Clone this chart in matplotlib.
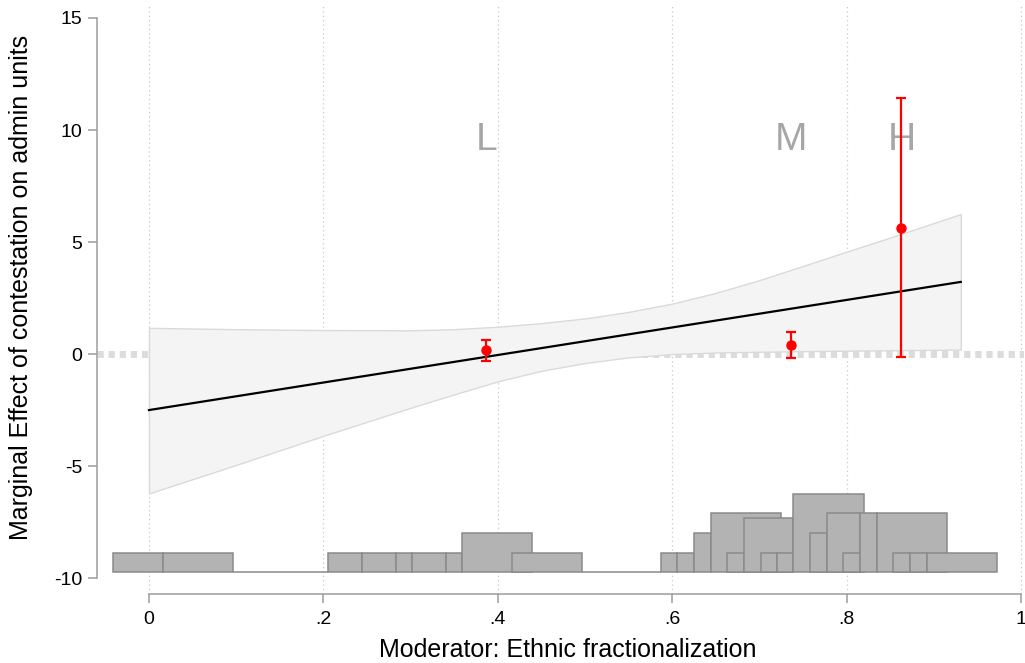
import matplotlib
matplotlib.use("Agg")
import matplotlib.pyplot as plt

plt.rcParams["font.family"] = ["Liberation Sans", "DejaVu Sans"]

# fitted marginal effect (linear) and its confidence band
fit_x = [0.0, 0.931]
fit_y = [-2.5, 3.22]

ci_x = [0.0, 0.1, 0.2, 0.3, 0.35, 0.4, 0.45, 0.5, 0.55, 0.6, 0.65, 0.7, 0.75, 0.8, 0.85, 0.931]
ci_upper = [1.17, 1.11, 1.07, 1.06, 1.11, 1.22, 1.38, 1.59, 1.88, 2.25, 2.73, 3.30, 3.93, 4.57, 5.2, 6.25]
ci_lower = [-6.22, -4.95, -3.65, -2.4, -1.8, -1.22, -0.75, -0.40, -0.15, 0.0, 0.07, 0.10, 0.13, 0.15, 0.17, 0.2]

# binned estimates (low / medium / high)
bin_labels = ["L", "M", "H"]
bin_x = [0.387, 0.736, 0.863]
bin_est = [0.18, 0.40, 5.64]
bin_lo = [-0.30, -0.16, -0.13]
bin_hi = [0.63, 1.00, 11.41]

# histogram of the moderator (bar edges and tops, drawn in this order)
hist_base = -9.75
hist_left = [-0.041, 0.0164, 0.0967, 0.2056, 0.2446, 0.2829, 0.3020, 0.3403, 0.3586, 0.4159,
             0.4969, 0.5868, 0.6059, 0.6250, 0.6441, 0.6632, 0.6823, 0.7014, 0.7205, 0.7389,
             0.7580, 0.7772, 0.7962, 0.8154, 0.8345, 0.8536, 0.8727, 0.8918]
hist_right = [0.0164, 0.0967, 0.2056, 0.2446, 0.2829, 0.3020, 0.3403, 0.3586, 0.4396, 0.4969,
              0.5868, 0.6059, 0.6250, 0.6441, 0.7248, 0.6823, 0.7389, 0.7205, 0.7388, 0.8200,
              0.7772, 0.8154, 0.8154, 0.8345, 0.9148, 0.8727, 0.8918, 0.9721]
hist_top = [-8.87, -8.87, -9.75, -8.87, -8.87, -8.87, -8.87, -8.87, -7.98, -8.87,
            -9.75, -8.87, -8.87, -7.98, -7.08, -8.87, -7.30, -8.87, -8.87, -6.25,
            -7.98, -7.08, -8.87, -7.08, -7.08, -8.87, -8.87, -8.87]

xticks = [0, 0.2, 0.4, 0.6, 0.8, 1.0]
xtick_labels = ["0", ".2", ".4", ".6", ".8", "1"]
yticks = [-10, -5, 0, 5, 10, 15]

fig = plt.figure(figsize=(10.25, 6.63), dpi=100)
ax = fig.add_axes([97 / 1025, 69 / 663, 927 / 1025, 589 / 663])
ax.set_xlim(-0.0596, 1.0035)
ax.set_ylim(-10.71, 15.58)

axis_grey = "#9c9c9c"
for x in xticks:
    ax.axvline(x, color="#c8c8c8", lw=0.9, ls=(0, (1, 2.5)), zorder=0)

ax.axhline(0, color="#dcdcdc", lw=5, dashes=(0.9, 0.7), dash_capstyle="butt", zorder=1)

ax.fill_between(ci_x, ci_lower, ci_upper, facecolor="#f4f4f4", edgecolor="#dadada",
                lw=1.0, zorder=2)
ax.plot(fit_x, fit_y, color="black", lw=1.6, zorder=3)

for left, right, top in zip(hist_left, hist_right, hist_top):
    ax.bar(left, top - hist_base, width=right - left, bottom=hist_base, align="edge",
           facecolor="#b3b3b3", edgecolor="#8a8a8a", lw=1.1, zorder=4)

err = [[e - lo for e, lo in zip(bin_est, bin_lo)], [hi - e for e, hi in zip(bin_est, bin_hi)]]
ax.errorbar(bin_x, bin_est, yerr=err, fmt="o", color="red", ms=6.5, elinewidth=1.6,
            capsize=3.8, capthick=1.6, zorder=5)

for lab, x in zip(bin_labels, bin_x):
    ax.text(x, 9.55, lab, color="#a6a6a6", fontsize=28, ha="center", va="center", zorder=4)

for side in ["top", "right"]:
    ax.spines[side].set_visible(False)
ax.spines["left"].set_bounds(-10, 15)
ax.spines["bottom"].set_bounds(0, 1)
for side in ["left", "bottom"]:
    ax.spines[side].set_color(axis_grey)
    ax.spines[side].set_linewidth(1.1)

ax.set_xticks(xticks)
ax.set_xticklabels(xtick_labels)
ax.set_yticks(yticks)
ax.set_yticklabels([str(v) for v in yticks])
ax.tick_params(axis="both", colors=axis_grey, labelcolor="black", labelsize=14,
               length=6.5, width=1.1)
ax.tick_params(axis="y", pad=4)
ax.tick_params(axis="x", pad=6)

ax.set_xlabel("Moderator: Ethnic fractionalization", fontsize=18)
ax.set_ylabel("Marginal Effect of contestation on admin units", fontsize=18)
ax.xaxis.set_label_coords(0.508, -0.074)
ax.yaxis.set_label_coords(-0.069, 0.521)

fig.savefig("out.png", dpi=100)
